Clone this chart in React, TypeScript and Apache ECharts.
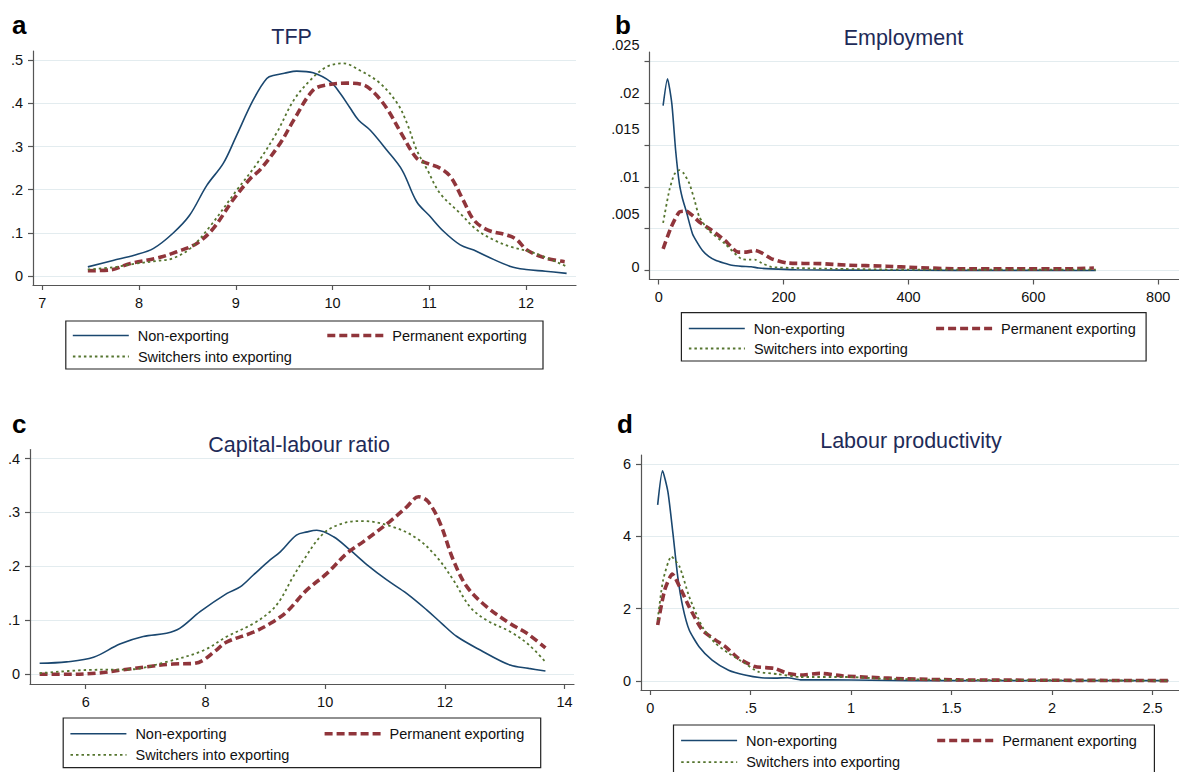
import React, { useEffect, useRef } from 'react';
import * as echarts from 'echarts';

const NAMES = ['Non-exporting', 'Permanent exporting', 'Switchers into exporting'];

// Panel a: TFP densities
const tfpNonX = [7.47, 7.73, 7.95, 8.15, 8.35, 8.52, 8.70, 8.87, 9.00, 9.18, 9.32, 9.41, 9.50, 9.63, 9.80, 9.98, 10.08, 10.18, 10.27, 10.39, 10.56, 10.72, 10.87, 11.0, 11.15, 11.32, 11.46, 11.60, 11.84, 12.0, 12.2, 12.42];
const tfpNonY = [0.021, 0.036, 0.048, 0.064, 0.099, 0.14, 0.210, 0.261, 0.322, 0.408, 0.458, 0.466, 0.470, 0.475, 0.471, 0.450, 0.423, 0.39, 0.361, 0.338, 0.292, 0.245, 0.172, 0.14, 0.103, 0.072, 0.06, 0.045, 0.022, 0.015, 0.011, 0.006];
const tfpPermX = [7.47, 7.70, 7.91, 8.18, 8.39, 8.60, 8.77, 8.97, 9.15, 9.25, 9.46, 9.60, 9.80, 9.94, 10.15, 10.32, 10.42, 10.56, 10.73, 10.87, 10.98, 11.11, 11.22, 11.35, 11.46, 11.60, 11.80, 11.90, 12.01, 12.21, 12.40];
const tfpPermY = [0.012, 0.014, 0.029, 0.041, 0.056, 0.076, 0.111, 0.176, 0.226, 0.246, 0.308, 0.362, 0.431, 0.443, 0.447, 0.443, 0.427, 0.389, 0.323, 0.273, 0.261, 0.250, 0.230, 0.176, 0.130, 0.107, 0.095, 0.085, 0.06, 0.041, 0.033];
const tfpSwX = [7.47, 7.73, 7.95, 8.19, 8.35, 8.53, 8.73, 9.01, 9.22, 9.42, 9.60, 9.77, 9.94, 10.11, 10.28, 10.49, 10.67, 10.77, 10.87, 10.98, 11.11, 11.32, 11.49, 11.67, 11.84, 12.09, 12.42];
const tfpSwY = [0.015, 0.02, 0.028, 0.035, 0.041, 0.064, 0.114, 0.199, 0.261, 0.331, 0.408, 0.454, 0.485, 0.493, 0.477, 0.447, 0.400, 0.354, 0.292, 0.246, 0.192, 0.145, 0.107, 0.083, 0.068, 0.053, 0.022];
const tfpXTicks = [7, 8, 9, 10, 11, 12];
const tfpYTicks = [0, 0.1, 0.2, 0.3, 0.4, 0.5];

// Panel b: employment densities
const empNonX = [7, 14, 21, 27, 33, 38, 44, 54, 62, 70, 80, 91, 104, 117, 133, 148, 160, 180, 220, 300, 400, 550, 700];
const empNonY = [0.0197, 0.0229, 0.0199, 0.0144, 0.0104, 0.0086, 0.0071, 0.0044, 0.0033, 0.0024, 0.0017, 0.00123, 0.0009, 0.00063, 0.0005, 0.00045, 0.0003, 0.0002, 0.0001, 0.00005, 0.00003, 0.00002, 0.00001];
const empPermX = [7, 20, 33, 44, 55, 65, 85, 106, 127, 140, 154, 165, 180, 206, 258, 300, 364, 412, 483, 571, 650, 697];
const empPermY = [0.0026, 0.0052, 0.0070, 0.0071, 0.0065, 0.0058, 0.0048, 0.0036, 0.0022, 0.0022, 0.0024, 0.0021, 0.00143, 0.0009, 0.00083, 0.00065, 0.00052, 0.00036, 0.0002, 0.0002, 0.0002, 0.0003];
const empSwX = [7, 17, 25, 33, 40, 49, 57, 65, 80, 106, 132, 146, 154, 165, 180, 220, 285, 400, 550, 700];
const empSwY = [0.0057, 0.0096, 0.0115, 0.012, 0.0116, 0.0104, 0.0085, 0.0064, 0.0048, 0.0032, 0.0014, 0.0013, 0.0013, 0.0009, 0.00043, 0.0003, 0.0002, 0.0001, 0.0001, 0.0001];
const empXTicks = [0, 200, 400, 600, 800];
const empYTicks = [0, 0.005, 0.01, 0.015, 0.02, 0.025];

// Panel c: capital-labour ratio densities
const klNonX = [5.23, 5.68, 6.13, 6.57, 6.96, 7.35, 7.57, 7.91, 8.36, 8.58, 8.80, 9.08, 9.25, 9.52, 9.70, 9.86, 10.14, 10.42, 10.70, 11.03, 11.36, 11.70, 11.95, 12.20, 12.59, 13.09, 13.40, 13.68];
const klNonY = [0.0204, 0.023, 0.0315, 0.056, 0.070, 0.076, 0.085, 0.116, 0.150, 0.162, 0.184, 0.212, 0.227, 0.258, 0.264, 0.267, 0.255, 0.230, 0.203, 0.175, 0.150, 0.119, 0.094, 0.070, 0.045, 0.017, 0.011, 0.006];
const klPermX = [5.23, 5.7, 6.18, 6.6, 7.02, 7.46, 7.80, 7.96, 8.15, 8.36, 8.80, 9.08, 9.36, 9.69, 10.03, 10.36, 10.64, 11.08, 11.36, 11.56, 11.72, 11.92, 12.14, 12.37, 12.70, 13.09, 13.37, 13.68];
const klPermY = [0.0, 0.0, 0.002, 0.008, 0.014, 0.019, 0.020, 0.026, 0.042, 0.060, 0.078, 0.094, 0.116, 0.156, 0.187, 0.224, 0.246, 0.283, 0.310, 0.329, 0.320, 0.280, 0.212, 0.162, 0.125, 0.094, 0.076, 0.049];
const klSwX = [5.23, 6.02, 6.74, 7.35, 7.96, 8.36, 8.80, 9.08, 9.25, 9.45, 9.64, 9.97, 10.30, 10.64, 11.14, 11.53, 11.86, 12.14, 12.42, 12.70, 13.09, 13.40, 13.68];
const klSwY = [0.002, 0.008, 0.009, 0.023, 0.044, 0.070, 0.094, 0.116, 0.138, 0.178, 0.212, 0.261, 0.280, 0.284, 0.273, 0.252, 0.218, 0.175, 0.125, 0.100, 0.079, 0.055, 0.023];
const klXTicks = [6, 8, 10, 12, 14];
const klYTicks = [0, 0.1, 0.2, 0.3, 0.4];

// Panel d: labour productivity densities
const lpNonX = [0.037, 0.061, 0.088, 0.113, 0.137, 0.162, 0.194, 0.243, 0.308, 0.39, 0.471, 0.553, 0.62, 0.683, 0.748, 0.90, 1.1, 1.3, 1.6, 2.0, 2.58];
const lpNonY = [4.87, 5.81, 5.23, 4.08, 2.88, 2.05, 1.41, 0.95, 0.58, 0.30, 0.166, 0.09, 0.08, 0.09, 0.03, 0.03, 0.02, 0.01, 0.01, 0.01, 0.01];
const lpPermX = [0.037, 0.072, 0.11, 0.146, 0.194, 0.259, 0.325, 0.374, 0.439, 0.52, 0.618, 0.683, 0.748, 0.846, 0.96, 1.1, 1.27, 1.54, 2.0, 2.58];
const lpPermY = [1.55, 2.52, 2.96, 2.61, 2.05, 1.41, 1.13, 0.95, 0.63, 0.40, 0.35, 0.21, 0.166, 0.21, 0.14, 0.10, 0.06, 0.03, 0.02, 0.01];
const lpSwX = [0.037, 0.064, 0.105, 0.146, 0.194, 0.259, 0.325, 0.39, 0.471, 0.536, 0.634, 0.748, 0.99, 1.17, 1.54, 2.0, 2.58];
const lpSwY = [1.69, 2.79, 3.44, 3.16, 2.33, 1.50, 1.04, 0.77, 0.49, 0.26, 0.19, 0.11, 0.11, 0.06, 0.03, 0.02, 0.01];
const lpXTicks = [0, 0.5, 1, 1.5, 2, 2.5];
const lpYTicks = [0, 2, 4, 6];

const FONT = "'Liberation Sans', Arial, Helvetica, sans-serif";
const NAVY = '#1a476f';
const MAROON = '#90353b';
const GREEN = '#55752f';
const TITLE_COLOR = '#1e2b58';
const AXIS_COLOR = '#555555';
const GRID_COLOR = '#e3ecef';
const LABEL_COLOR = '#111111';

// Stata-style number labels: drop the leading zero (".5", ".025")
const fmtNum = (v: number) => (v === 0 ? '0' : String(v).replace(/^0\./, '.'));

const pairs = (xs: number[], ys: number[]) => xs.map((x, i) => [x, ys[i]]);

const grids = [
  { left: 33, top: 51, width: 543, height: 234 },
  { left: 649.5, top: 52, width: 540, height: 227.5 },
  { left: 30, top: 449.5, width: 544, height: 234.5 },
  { left: 641, top: 455, width: 548, height: 235 },
];

const xRanges = [
  { min: 6.903, max: 12.517, ticks: tfpXTicks },
  { min: -14.8, max: 833.3, ticks: empXTicks },
  { min: 5.069, max: 14.157, ticks: klXTicks },
  { min: -0.046, max: 2.632, ticks: lpXTicks },
];

const yRanges = [
  { min: -0.021, max: 0.5216, ticks: tfpYTicks },
  { min: -0.00107, max: 0.0261, ticks: empYTicks },
  { min: -0.018, max: 0.4167, ticks: klYTicks },
  { min: -0.249, max: 6.25, ticks: lpYTicks },
];

// employment panel: label lift (px) per tick value, as the labels sit above their ticks
const empLabelLift = [4, 15, 10, 16, 10, 16];

const panelData = [
  [pairs(tfpNonX, tfpNonY), pairs(tfpPermX, tfpPermY), pairs(tfpSwX, tfpSwY)],
  [pairs(empNonX, empNonY), pairs(empPermX, empPermY), pairs(empSwX, empSwY)],
  [pairs(klNonX, klNonY), pairs(klPermX, klPermY), pairs(klSwX, klSwY)],
  [pairs(lpNonX, lpNonY), pairs(lpPermX, lpPermY), pairs(lpSwX, lpSwY)],
];

const lineStyles = [
  { color: NAVY, width: 1.6, type: 'solid' },
  { color: MAROON, width: 3.6, type: [8, 4] },
  { color: GREEN, width: 1.8, type: [2.5, 3] },
];

const titles = [
  { text: 'TFP', x: 291.6, y: 37 },
  { text: 'Employment', x: 903.4, y: 38 },
  { text: 'Capital-labour ratio', x: 299.1, y: 445 },
  { text: 'Labour productivity', x: 911, y: 441 },
];

const letters = [
  { text: 'a', x: 12, y: 38 },
  { text: 'b', x: 615, y: 38 },
  { text: 'c', x: 12, y: 437 },
  { text: 'd', x: 617, y: 437 },
];

const legendBoxes = [
  { x: 65.8, y: 321, w: 477.2, h: 48 },
  { x: 681.4, y: 312.7, w: 464.7, h: 48.3 },
  { x: 63.2, y: 718, w: 477.5, h: 49.7 },
  { x: 673.5, y: 725, w: 480.9, h: 52 },
];

// sample start x and row centre y for each legend entry: [non, perm, switchers]
const legendSlots = [
  [[72, 335], [325.5, 335], [72, 356]],
  [[688, 328], [934.3, 328], [688, 348]],
  [[69.6, 733.3], [322.8, 733.3], [69.6, 754.3]],
  [[680.3, 740], [935.4, 740], [680.3, 761.7]],
];

function buildOption() {
  const xAxis = xRanges.map((r, i) => ({
    type: 'value',
    gridIndex: i,
    min: r.min,
    max: r.max,
    axisLine: { show: true, onZero: false, lineStyle: { color: AXIS_COLOR, width: 1.2 } },
    axisTick: { show: true, customValues: r.ticks, length: 5, lineStyle: { color: AXIS_COLOR, width: 1.2 } },
    axisLabel: {
      customValues: r.ticks,
      formatter: (v: number) => fmtNum(v),
      margin: 10,
      fontSize: 14.5,
      fontFamily: FONT,
      color: LABEL_COLOR,
    },
    splitLine: { show: false },
  }));

  const yAxis = yRanges.map((r, i) => {
    const label: any = {
      customValues: r.ticks,
      margin: 10,
      fontSize: 14.5,
      fontFamily: FONT,
      color: LABEL_COLOR,
      formatter: (v: number) => fmtNum(v),
    };
    if (i === 1) {
      const rich: any = {};
      empLabelLift.forEach((lift, k) => {
        rich['l' + k] = { fontSize: 14.5, fontFamily: FONT, color: LABEL_COLOR, padding: [0, 0, lift * 2, 0] };
      });
      label.formatter = (v: number) => {
        const k = r.ticks.findIndex((t) => Math.abs(t - v) < 1e-9);
        return `{l${k < 0 ? 0 : k}|${fmtNum(v)}}`;
      };
      label.rich = rich;
    }
    return {
      type: 'value',
      gridIndex: i,
      min: r.min,
      max: r.max,
      axisLine: { show: true, onZero: false, lineStyle: { color: AXIS_COLOR, width: 1.2 } },
      axisTick: { show: true, customValues: r.ticks, length: 5, lineStyle: { color: AXIS_COLOR, width: 1.2 } },
      axisLabel: label,
      splitLine: { show: true, lineStyle: { color: GRID_COLOR, width: 1.2 } },
    };
  });

  const series: any[] = [];
  panelData.forEach((set, p) => {
    set.forEach((data, s) => {
      series.push({
        type: 'line',
        name: NAMES[s],
        xAxisIndex: p,
        yAxisIndex: p,
        data,
        symbol: 'none',
        showSymbol: false,
        smooth: p === 1 || p === 3 ? 0.2 : 0.35,
        lineStyle: { ...lineStyles[s], cap: 'butt' },
        itemStyle: { color: lineStyles[s].color },
        z: 2 + s,
      });
    });
  });

  const legend: any[] = [];
  legendSlots.forEach((slots) => {
    slots.forEach((slot, s) => {
      legend.push({
        data: [NAMES[s]],
        left: slot[0],
        top: slot[1] - 7,
        orient: 'horizontal',
        padding: 0,
        itemGap: 0,
        itemWidth: 56,
        itemHeight: 14,
        selectedMode: false,
        // line sample only: hide the marker drawn at the middle of the sample
        itemStyle: { opacity: 0, borderWidth: 0 },
        lineStyle: {
          color: lineStyles[s].color,
          width: lineStyles[s].width,
          type: lineStyles[s].type,
          cap: 'butt',
        },
        textStyle: { fontSize: 14.5, fontFamily: FONT, color: LABEL_COLOR, padding: [0, 0, 0, 4] },
      });
    });
  });

  const graphic: any[] = [];
  titles.forEach((t) => {
    graphic.push({
      type: 'text',
      x: t.x,
      y: t.y,
      style: { text: t.text, fill: TITLE_COLOR, font: `21.5px ${FONT}`, align: 'center', verticalAlign: 'middle' },
    });
  });
  letters.forEach((t) => {
    graphic.push({
      type: 'text',
      x: t.x,
      y: t.y,
      style: { text: t.text, fill: '#000', font: `bold 26px ${FONT}`, align: 'left', verticalAlign: 'bottom' },
    });
  });
  legendBoxes.forEach((b) => {
    graphic.push({
      type: 'rect',
      shape: { x: b.x, y: b.y, width: b.w, height: b.h },
      style: { fill: 'none', stroke: '#222', lineWidth: 1.2 },
      silent: true,
    });
  });

  return {
    animation: false,
    backgroundColor: '#ffffff',
    grid: grids.map((g) => ({ ...g, containLabel: false })),
    xAxis,
    yAxis,
    series,
    legend,
    graphic,
  };
}

export default function App() {
  const ref = useRef<HTMLDivElement>(null);

  useEffect(() => {
    if (!ref.current) return;
    const chart = echarts.init(ref.current, undefined, { renderer: 'svg' });
    chart.setOption(buildOption() as any);
    return () => chart.dispose();
  }, []);

  return (
    <div
      ref={ref}
      style={{ position: 'fixed', left: 0, top: 0, width: 1179, height: 772, background: '#fff' }}
    />
  );
}
